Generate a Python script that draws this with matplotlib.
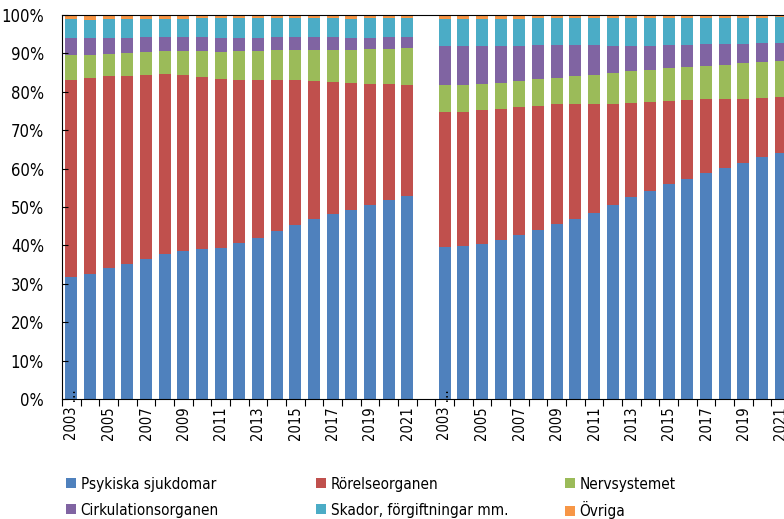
import matplotlib
matplotlib.use('Agg')
import matplotlib.pyplot as plt
from matplotlib import font_manager
import numpy as np

years = list(range(2003, 2022))
categories = ['Psykiska sjukdomar', 'Rörelseorganen', 'Nervsystemet',
              'Cirkulationsorganen', 'Skador, förgiftningar mm.', 'Övriga']
colors = ['#4F81BD', '#C0504D', '#9BBB59', '#8064A2', '#4BACC6', '#F79646']

# första gruppen, andel i procent
psyk_1 = [31.8, 32.6, 34.1, 35.2, 36.5, 37.7, 38.5, 39.0, 39.3, 40.6,
          42.0, 43.7, 45.4, 46.8, 48.2, 49.3, 50.6, 51.9, 52.9]
rorelse_1 = [51.4, 51.0, 49.9, 49.0, 48.0, 46.9, 45.9, 44.9, 44.1, 42.6,
             41.0, 39.3, 37.6, 36.1, 34.4, 33.1, 31.5, 30.1, 28.9]
nerv_1 = [6.4, 6.0, 5.9, 5.9, 5.8, 5.9, 6.1, 6.6, 7.0, 7.3,
          7.6, 7.8, 8.0, 8.1, 8.4, 8.6, 9.0, 9.2, 9.5]
cirk_1 = [4.5, 4.5, 4.2, 4.0, 4.0, 3.9, 3.9, 3.7, 3.7, 3.6,
          3.5, 3.4, 3.2, 3.4, 3.3, 3.1, 3.0, 3.1, 3.0]
skador_1 = [4.8, 4.7, 4.8, 4.8, 4.7, 4.6, 4.6, 4.9, 5.0, 5.0,
            5.0, 4.9, 4.9, 4.8, 4.8, 4.9, 5.0, 4.8, 4.8]
ovriga_1 = [1.1, 1.2, 1.1, 1.1, 1.0, 1.0, 1.0, 0.9, 0.9, 0.9,
            0.9, 0.9, 0.9, 0.8, 0.9, 1.0, 0.9, 0.9, 0.9]

# andra gruppen
psyk_2 = [39.7, 39.9, 40.4, 41.5, 42.7, 44.1, 45.5, 46.9, 48.5, 50.4,
          52.5, 54.1, 55.9, 57.4, 58.8, 60.1, 61.4, 62.9, 64.1]
rorelse_2 = [35.0, 34.8, 34.9, 34.1, 33.3, 32.3, 31.2, 29.8, 28.2, 26.5,
             24.7, 23.3, 21.8, 20.5, 19.3, 18.1, 16.8, 15.6, 14.5]
nerv_2 = [7.1, 7.1, 6.8, 6.8, 6.8, 6.9, 7.0, 7.3, 7.7, 8.0,
          8.1, 8.4, 8.4, 8.6, 8.7, 8.9, 9.2, 9.3, 9.5]
cirk_2 = [10.2, 10.2, 9.9, 9.4, 9.2, 8.8, 8.4, 8.1, 7.7, 7.1,
          6.7, 6.2, 6.1, 5.8, 5.6, 5.3, 5.0, 4.8, 4.7]
skador_2 = [6.9, 6.9, 6.9, 7.1, 7.0, 7.0, 7.0, 7.1, 7.0, 7.1,
            7.1, 7.3, 7.1, 7.0, 6.9, 6.7, 6.9, 6.7, 6.6]
ovriga_2 = [1.1, 1.1, 1.1, 1.1, 1.0, 0.9, 0.9, 0.8, 0.9, 0.9,
            0.9, 0.7, 0.7, 0.7, 0.7, 0.9, 0.7, 0.7, 0.6]

group_1 = [psyk_1, rorelse_1, nerv_1, cirk_1, skador_1, ovriga_1]
group_2 = [psyk_2, rorelse_2, nerv_2, cirk_2, skador_2, ovriga_2]

names = {f.name for f in font_manager.fontManager.ttflist}
if 'Liberation Sans Narrow' in names:
    plt.rcParams['font.family'] = ['Liberation Sans Narrow', 'DejaVu Sans']
else:
    plt.rcParams['font.family'] = ['DejaVu Sans']
    plt.rcParams['font.stretch'] = 'condensed'
plt.rcParams['font.size'] = 11

fig = plt.figure(figsize=(7.84, 5.19), dpi=100)
ax = fig.add_axes([62 / 784, 1 - 399 / 519, 728 / 784, 384 / 519])

n = len(years)
x1 = np.arange(n)
x2 = np.arange(n + 1, 2 * n + 1)

handles = []
for x, group in ((x1, group_1), (x2, group_2)):
    bottom = np.zeros(n)
    for i, vals in enumerate(group):
        b = ax.bar(x, vals, 0.64, bottom=bottom, color=colors[i],
                   linewidth=0, label=categories[i])
        bottom += np.array(vals)
        if x is x1:
            handles.append(b)

ax.set_xlim(-0.5, 2 * n + 0.5)
ax.set_ylim(0, 100)
ax.set_yticks(range(0, 101, 10))
ax.set_yticklabels([f'{v}%' for v in range(0, 101, 10)], fontsize=12)
ax.tick_params(axis='y', direction='in', length=4, width=0.8, pad=13)

label_pos = list(x1[::2]) + list(x2[::2])
labels = [('2003 …' if y == 2003 else str(y)) for y in years[::2]] * 2
ax.set_xticks(label_pos)
ax.set_xticklabels(labels, rotation=90, va='bottom', fontsize=10.5)
ax.set_xticks(np.arange(-0.5, 2 * n + 1, 1), minor=True)
ax.tick_params(axis='x', which='major', length=0, pad=29.5)
ax.tick_params(axis='x', which='minor', direction='out', length=5, width=0.8)

for s in ax.spines.values():
    s.set_color('black')
    s.set_linewidth(0.8)

# legenden: tre kolumner, två rader, en post i taget
col_x = [66, 316, 565]
row_y = [484, 510]
for i, h in enumerate(handles):
    xp = col_x[i % 3]
    yp = row_y[i // 3]
    fig.legend([h], [categories[i]], loc='center left',
               bbox_to_anchor=(xp / 784, 1 - yp / 519),
               frameon=False, borderpad=0, borderaxespad=0,
               handlelength=0.65, handleheight=0.65, handletextpad=0.3)

fig.savefig('out.png', dpi=100)
